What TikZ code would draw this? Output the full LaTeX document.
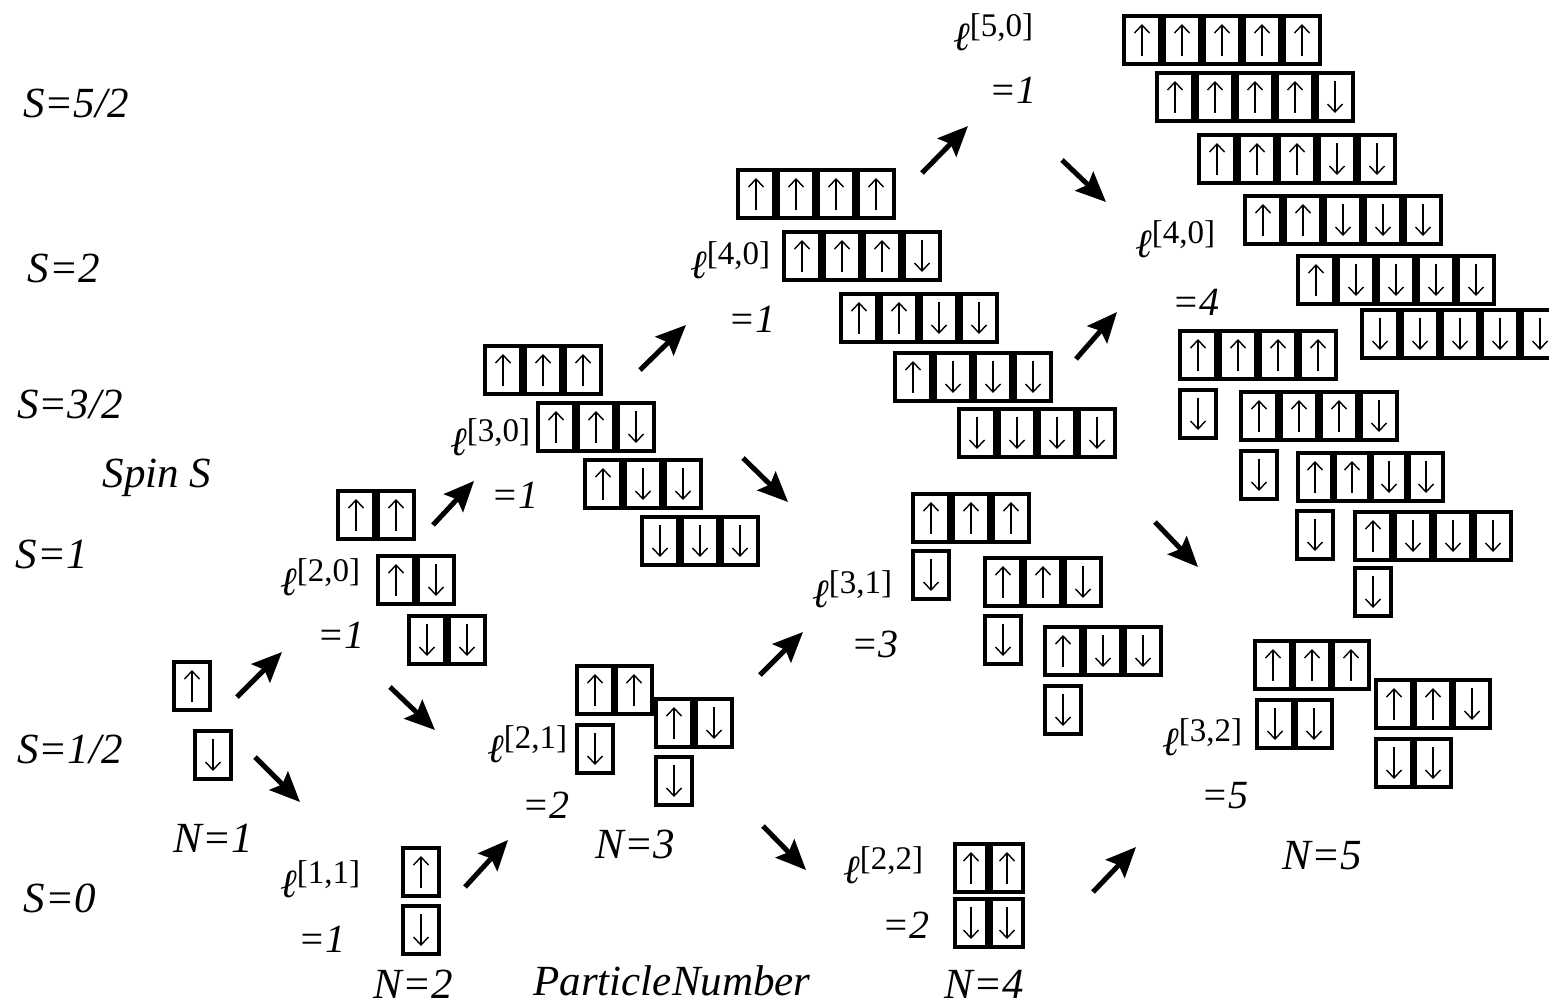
\documentclass[tikz,border=0pt]{standalone}
\usepackage{fontspec}
\setmainfont{Liberation Serif}
\usetikzlibrary{arrows.meta}
\newcommand\Up{1}
\newcommand\Dn{-1}
\newcommand\lab[1]{{\fontsize{40}{40}\selectfont\itshape ℓ}\raisebox{14pt}{\fontsize{33}{33}\selectfont[#1]}}
\tikzset{
  cellbox/.style={draw, line width=4pt, inner sep=0pt, outer sep=0pt, minimum height=48pt},
  spinarr/.style={line width=1.4pt, -{Straight Barb[length=8pt,width=15pt,line width=1.4pt]}},
  arr/.style={line width=5pt, -{Stealth[length=30pt,width=26pt,inset=5pt]}},
  big/.style={font=\fontsize{43}{46}\selectfont\itshape, inner sep=0pt, anchor=base},
  eqlab/.style={font=\fontsize{40}{44}\selectfont\itshape, inner sep=0pt, anchor=base},
  ell/.style={inner sep=0pt, anchor=base west},
}
\newcommand\crow[5][40]{%
  \pgfmathsetmacro\cw{#1-3.5}%
  \foreach \s [count=\i] in {#5} {
    \node[cellbox, minimum width=\cw pt] (#2-\i) at ({#3+(\i-1)*#1}, #4) {};
    \draw[spinarr] (#2-\i.center) ++(0,{16*\s}) -- ++(0,{-32*\s});
  }}
\begin{document}
\begin{tikzpicture}[x=1pt,y=-1pt]
\useasboundingbox (0,0) rectangle (1549,1005);
% spin labels
\node[big] (s52) at (76,117) {S=5/2};
\node[big] (s2) at (64,282) {S=2};
\node[big] (s32) at (70,418) {S=3/2};
\node[big] (spin) at (157,487) {Spin S};
\node[big] (s1) at (52,568) {S=1};
\node[big] (s12) at (70,763) {S=1/2};
\node[big] (s0) at (60,912) {S=0};
% particle number labels
\node[big] (n1) at (213,852) {N=1};
\node[big] (n2) at (413,998) {N=2};
\node[big] (pn) at (672,995) {ParticleNumber};
\node[big] (n3) at (635,858) {N=3};
\node[big] (n4) at (984,998) {N=4};
\node[big] (n5) at (1322,869) {N=5};
% ell labels
\node[ell] (l11) at (280,897) {\lab{1,1}};
\node[eqlab] (e11) at (322,952) {=1};
\node[ell] (l20) at (280,595) {\lab{2,0}};
\node[eqlab] (e20) at (341,648) {=1};
\node[ell] (l30) at (450,455) {\lab{3,0}};
\node[eqlab] (e30) at (515,508) {=1};
\node[ell] (l21) at (487,762) {\lab{2,1}};
\node[eqlab] (e21) at (546,818) {=2};
\node[ell] (l40a) at (690,278) {\lab{4,0}};
\node[eqlab] (e40a) at (752,332) {=1};
\node[ell] (l31) at (812,607) {\lab{3,1}};
\node[eqlab] (e31) at (875,657) {=3};
\node[ell] (l22) at (843,883) {\lab{2,2}};
\node[eqlab] (e22) at (906,938) {=2};
\node[ell] (l50) at (953,50) {\lab{5,0}};
\node[eqlab] (e50) at (1013,103) {=1};
\node[ell] (l40b) at (1135,257) {\lab{4,0}};
\node[eqlab] (e40b) at (1196,315) {=4};
\node[ell] (l32) at (1162,755) {\lab{3,2}};
\node[eqlab] (e32) at (1225,808) {=5};
% N=1
\crow{nA}{192}{686}{\Up}
\crow{nB}{213}{755}{\Dn}
% N=2
\crow{zA}{421}{872}{\Up}
\crow{zB}{421}{930}{\Dn}
\crow{oA}{356}{515}{\Up,\Up}
\crow{oB}{396}{580}{\Up,\Dn}
\crow{oC}{427}{640}{\Dn,\Dn}
% N=3
\crow{tA}{503}{370}{\Up,\Up,\Up}
\crow{tB}{556}{427}{\Up,\Up,\Dn}
\crow{tC}{603}{484}{\Up,\Dn,\Dn}
\crow{tD}{660}{541}{\Dn,\Dn,\Dn}
\crow[39]{hA}{595}{690}{\Up,\Up}
\crow{hB}{595}{749}{\Dn}
\crow{hC}{674}{723}{\Up,\Dn}
\crow{hD}{674}{781}{\Dn}
% N=4
\crow{fA}{756}{194}{\Up,\Up,\Up,\Up}
\crow{fB}{802}{256}{\Up,\Up,\Up,\Dn}
\crow{fC}{859}{318}{\Up,\Up,\Dn,\Dn}
\crow{fD}{913}{377}{\Up,\Dn,\Dn,\Dn}
\crow{fE}{977}{433}{\Dn,\Dn,\Dn,\Dn}
\crow{gA}{931}{518}{\Up,\Up,\Up}
\crow{gB}{931}{575}{\Dn}
\crow{gC}{1003}{582}{\Up,\Up,\Dn}
\crow{gD}{1003}{640}{\Dn}
\crow{gE}{1063}{651}{\Up,\Dn,\Dn}
\crow{gF}{1063}{710}{\Dn}
\crow[36]{kA}{971}{868}{\Up,\Up}
\crow[36]{kB}{971}{923}{\Dn,\Dn}
% N=5
\crow{pA}{1142}{40}{\Up,\Up,\Up,\Up,\Up}
\crow{pB}{1175}{97}{\Up,\Up,\Up,\Up,\Dn}
\crow{pC}{1217}{159}{\Up,\Up,\Up,\Dn,\Dn}
\crow{pD}{1263}{220}{\Up,\Up,\Dn,\Dn,\Dn}
\crow{pE}{1316}{280}{\Up,\Dn,\Dn,\Dn,\Dn}
\crow{pF}{1380}{334}{\Dn,\Dn,\Dn,\Dn,\Dn}
\crow{qA}{1198}{355}{\Up,\Up,\Up,\Up}
\crow{qB}{1198}{414}{\Dn}
\crow{qC}{1259}{416}{\Up,\Up,\Up,\Dn}
\crow{qD}{1259}{475}{\Dn}
\crow[37]{qE}{1315}{477}{\Up,\Up,\Dn,\Dn}
\crow{qF}{1315}{535}{\Dn}
\crow{qG}{1373}{536}{\Up,\Dn,\Dn,\Dn}
\crow{qH}{1373}{592}{\Dn}
\crow[39]{wA}{1273}{665}{\Up,\Up,\Up}
\crow[39]{wB}{1275}{724}{\Dn,\Dn}
\crow[39]{wC}{1394}{704}{\Up,\Up,\Dn}
\crow[39]{wD}{1394}{763}{\Dn,\Dn}
% arrows
\coordinate (a1s) at (237,697); \coordinate (a1e) at (282,652);
\coordinate (a2s) at (255,757); \coordinate (a2e) at (300,802);
\coordinate (a3s) at (433,525); \coordinate (a3e) at (474,481);
\coordinate (a4s) at (390,687); \coordinate (a4e) at (435,730);
\coordinate (a5s) at (465,887); \coordinate (a5e) at (508,840);
\coordinate (a6s) at (640,370); \coordinate (a6e) at (686,325);
\coordinate (a7s) at (743,458); \coordinate (a7e) at (788,502);
\coordinate (a8s) at (760,675); \coordinate (a8e) at (803,632);
\coordinate (a9s) at (763,826); \coordinate (a9e) at (806,870);
\coordinate (a10s) at (922,173); \coordinate (a10e) at (968,126);
\coordinate (a11s) at (1062,160); \coordinate (a11e) at (1106,202);
\coordinate (a12s) at (1076,359); \coordinate (a12e) at (1117,312);
\coordinate (a13s) at (1155,522); \coordinate (a13e) at (1198,567);
\coordinate (a14s) at (1093,892); \coordinate (a14e) at (1136,847);
\foreach \k in {1,...,14} { \draw[arr] (a\k s) -- (a\k e); }
\end{tikzpicture}
\end{document}
